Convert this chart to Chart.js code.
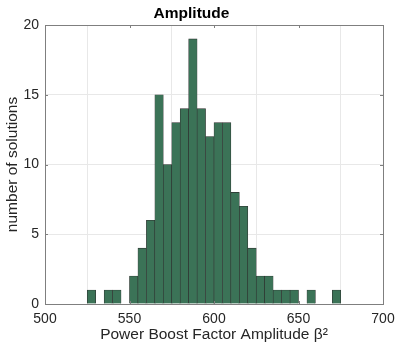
<!DOCTYPE html>
<html>
<head>
<meta charset="utf-8">
<script src="https://cdn.jsdelivr.net/npm/chart.js@4"></script>
<style>
  html, body { margin: 0; padding: 0; background: #fff; }
  #wrap { width: 398px; height: 346px; }
</style>
</head>
<body>
<div id="wrap"><canvas id="chart-amplitude"></canvas></div>
<script>
// histogram bins: left edge of each 5-wide bin and its count
const binStarts = [525, 530, 535, 540, 545, 550, 555, 560, 565, 570, 575, 580, 585, 590, 595,
  600, 605, 610, 615, 620, 625, 630, 635, 640, 645, 650, 655, 660, 665, 670];
const binCounts = [1, 0, 1, 1, 0, 2, 4, 6, 15, 10, 13, 14, 19, 14, 12,
  13, 13, 8, 7, 4, 2, 2, 1, 1, 1, 0, 1, 0, 0, 1];
const binWidth = 5;
const xTicks = [500, 550, 600, 650, 700];
const yTicks = [0, 5, 10, 15, 20];

const textColor = '#262626';
const font = 'Liberation Sans, Arial, Helvetica, sans-serif';

// MATLAB-like axes box with inward ticks
const boxPlugin = {
  id: 'box',
  afterDraw(chart) {
    const { ctx, chartArea: a, scales } = chart;
    ctx.save();
    ctx.strokeStyle = '#7f7f7f';
    ctx.lineWidth = 1;
    ctx.strokeRect(Math.round(a.left) + 0.5, Math.round(a.top) + 0.5,
      Math.round(a.right - a.left), Math.round(a.bottom - a.top));
    ctx.beginPath();
    xTicks.forEach(v => {
      const x = Math.round(scales.x.getPixelForValue(v)) + 0.5;
      ctx.moveTo(x, a.bottom); ctx.lineTo(x, a.bottom - 3);
      ctx.moveTo(x, a.top); ctx.lineTo(x, a.top + 3);
    });
    yTicks.forEach(v => {
      const y = Math.round(scales.y.getPixelForValue(v)) + 0.5;
      ctx.moveTo(a.left, y); ctx.lineTo(a.left + 3, y);
      ctx.moveTo(a.right, y); ctx.lineTo(a.right - 3, y);
    });
    ctx.stroke();
    ctx.restore();
  }
};

new Chart(document.getElementById('chart-amplitude'), {
  type: 'bar',
  data: {
    datasets: [{
      label: 'Solutions',
      data: binStarts.map((s, i) => ({ x: s + binWidth / 2, y: binCounts[i] })),
      backgroundColor: '#3b7357',
      borderColor: '#2e2e2e',
      borderWidth: 0.6,
      barPercentage: 1,
      categoryPercentage: 1,
    }]
  },
  options: {
    responsive: true,
    maintainAspectRatio: false,
    animation: false,
    layout: { padding: { left: 0, right: 15, top: 0, bottom: 0 } },
    plugins: {
      legend: { display: false },
      tooltip: { enabled: false },
      title: {
        display: true,
        text: 'Amplitude',
        color: '#000',
        font: { family: font, size: 15.5, weight: 'bold' },
        padding: { top: 4, bottom: 2.4 },
      },
    },
    scales: {
      x: {
        type: 'linear',
        min: 500,
        max: 700,
        offset: false,
        afterBuildTicks: s => { s.ticks = xTicks.map(v => ({ value: v })); },
        afterFit: s => { s.height = 42; s.paddingLeft = 0; s.paddingRight = 0; },
        ticks: { color: textColor, font: { family: font, size: 14 }, padding: 7, maxRotation: 0 },
        grid: { color: '#e8e8e8', drawTicks: false },
        border: { display: false },
        title: {
          display: true,
          text: 'Power Boost Factor Amplitude β²',
          color: textColor,
          font: { family: font, size: 15.5 },
          padding: { top: 1, bottom: 2 },
        },
      },
      y: {
        min: 0,
        max: 20,
        afterBuildTicks: s => { s.ticks = yTicks.map(v => ({ value: v })); },
        afterFit: s => { s.width = 45; },
        ticks: { color: textColor, font: { family: font, size: 14 }, padding: 6 },
        grid: { color: '#e8e8e8', drawTicks: false },
        border: { display: false },
        title: {
          display: true,
          text: 'number of solutions',
          color: textColor,
          font: { family: font, size: 15.5 },
          padding: { top: 3, bottom: 2 },
        },
      },
    },
  },
  plugins: [boxPlugin],
});
</script>
</body>
</html>
